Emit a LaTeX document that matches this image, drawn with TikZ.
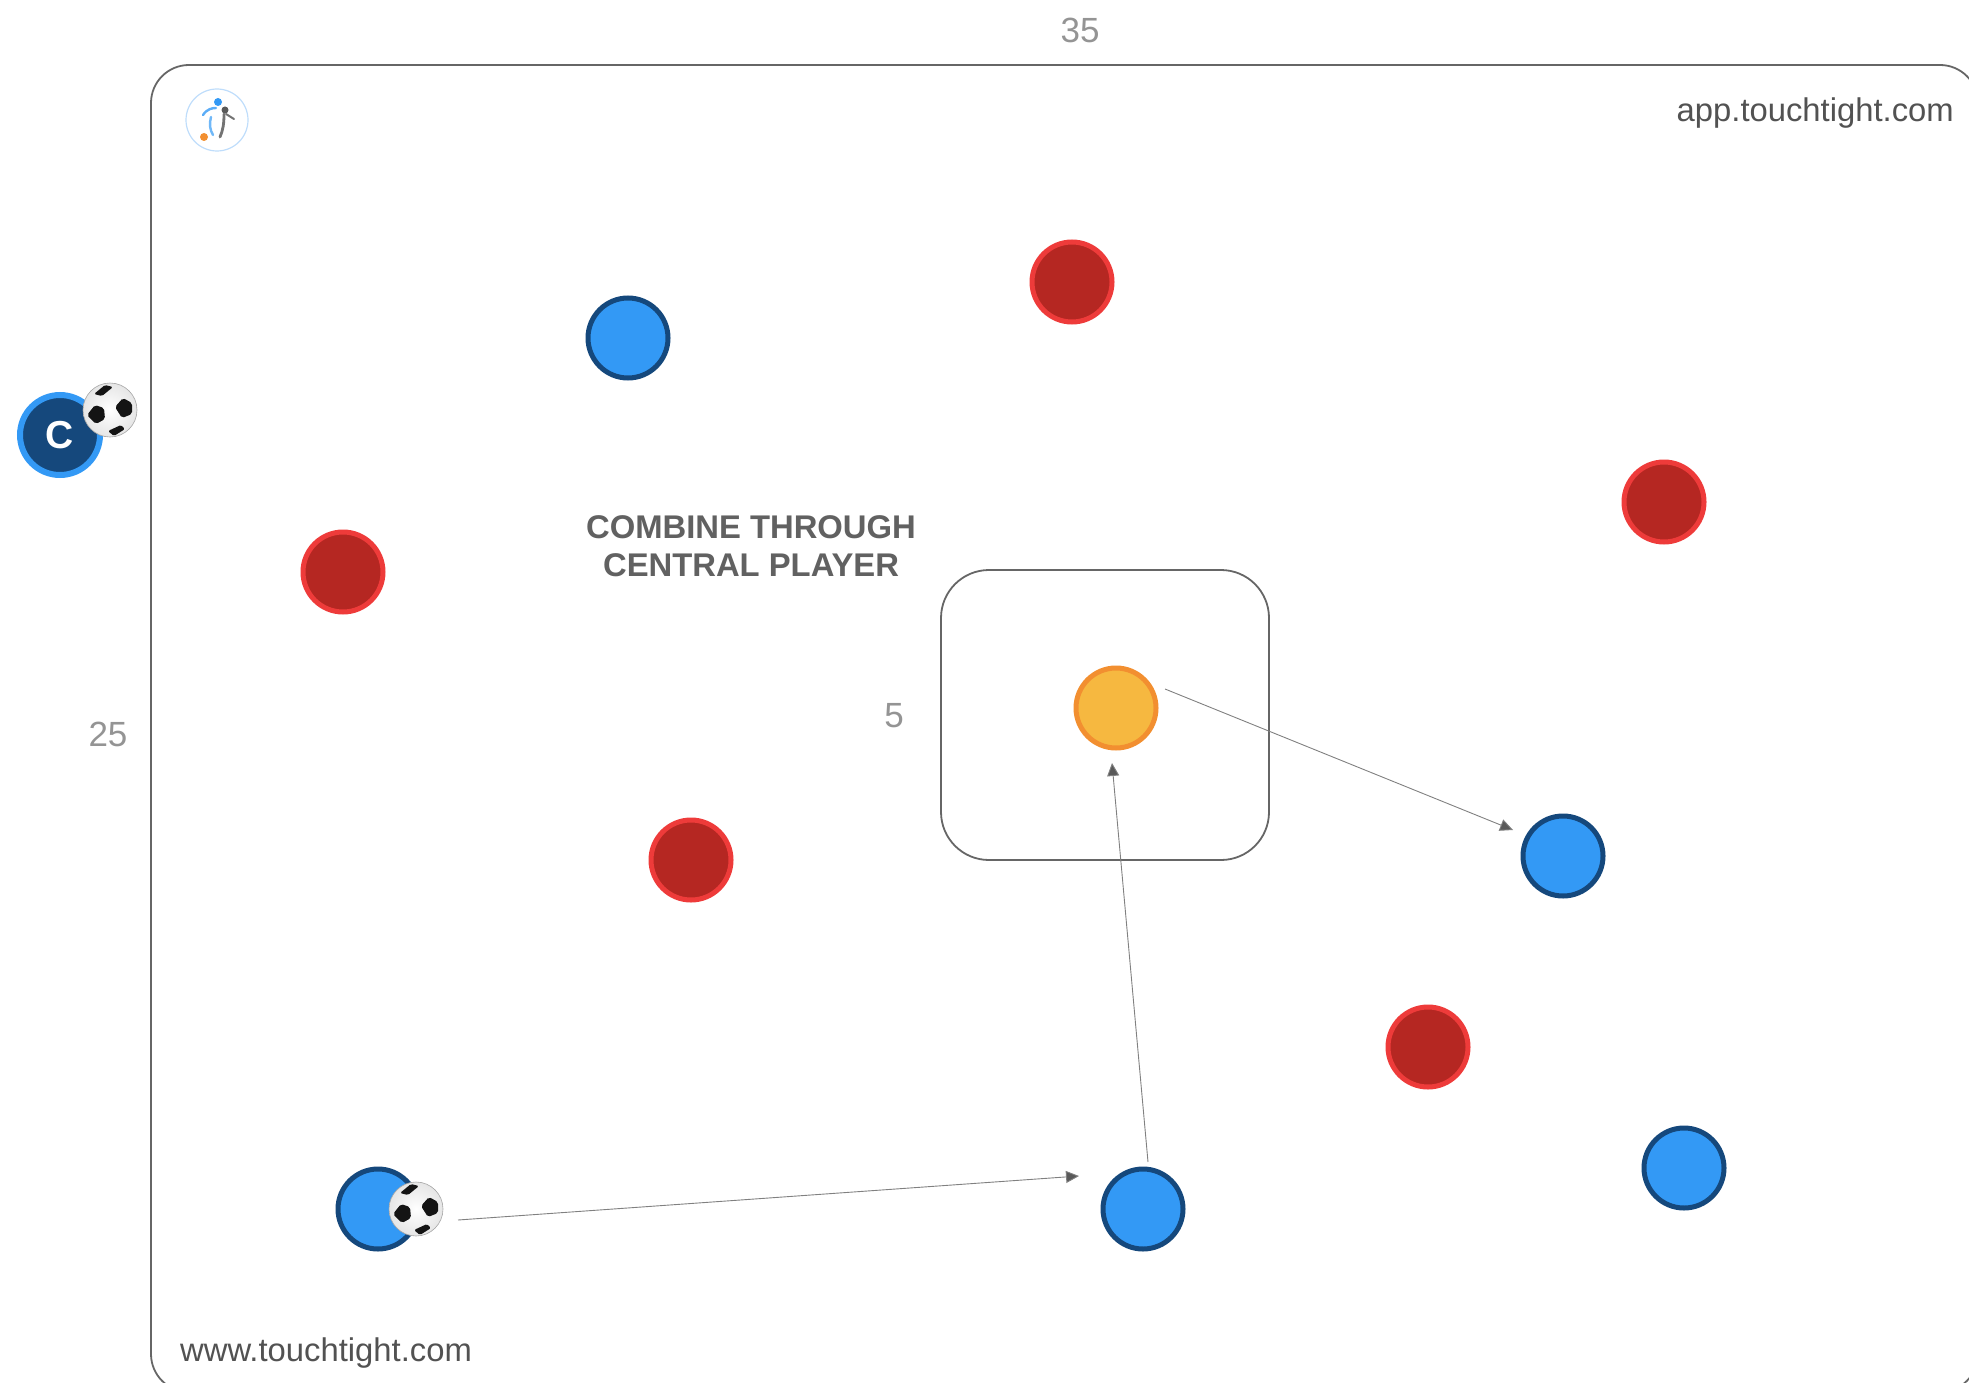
\documentclass[tikz,border=0pt]{standalone}
\usepackage{fontspec}
\setmainfont{Liberation Sans}
\usetikzlibrary{arrows.meta}
\definecolor{redfill}{HTML}{B52722}
\definecolor{redline}{HTML}{EE3B3A}
\definecolor{bluefill}{HTML}{3399F5}
\definecolor{blueline}{HTML}{15487C}
\definecolor{orangefill}{HTML}{F6B840}
\definecolor{orangeline}{HTML}{F28F30}
\definecolor{frameline}{HTML}{666666}
\definecolor{logoblue}{HTML}{BFDDFB}
\tikzset{
  x=1pt,y=-1pt,
  player/.style={circle,inner sep=0pt,outer sep=0pt,minimum size=80pt,line width=5pt},
  redplayer/.style={player,fill=redfill,draw=redline},
  blueplayer/.style={player,fill=bluefill,draw=blueline},
  orangeplayer/.style={player,fill=orangefill,draw=orangeline},
  coachplayer/.style={player,fill=blueline,draw=bluefill,line width=6pt,text=white,font=\fontsize{39}{39}\selectfont\bfseries},
  ballbody/.style={circle,inner sep=0pt,outer sep=0pt,minimum size=54pt,inner color=white,outer color=black!10,draw=black!35,line width=.6pt},
  framebox/.style={draw=frameline,line width=1.8pt,fill=none},
  pass/.style={draw=black!50,line width=.9pt,-{Triangle[length=13pt,width=12pt,fill=black!65]}},
  dimlabel/.style={text=black!42,inner sep=0pt,font=\fontsize{35}{35}\selectfont},
  siteurl/.style={text=black!68,inner sep=0pt,font=\fontsize{32.8}{32.8}\selectfont},
  drilltitle/.style={text=black!62,inner sep=0pt,align=center,font=\fontsize{32.8}{38.5}\selectfont\bfseries},
}
\newcommand{\ballpatches}[2]{%
  \begin{scope}[shift={(#1,#2)}]
    \fill[black!92,rounded corners=2pt] (-23,5) -- (-15,-5) -- (-6,-2) -- (-5,9) -- (-14,14) -- cycle;
    \fill[black!92,rounded corners=2pt] (5,-3) -- (13,-12) -- (22,-7) -- (22,4) -- (12,8) -- cycle;
    \fill[black!92,rounded corners=1.5pt] (-16,-16) -- (-5,-25) -- (3,-23) -- (-8,-14) -- cycle;
    \fill[black!92,rounded corners=1.5pt] (-2,21) -- (11,15) -- (15,19) -- (4,26) -- cycle;
  \end{scope}}
\begin{document}
\begin{tikzpicture}
\useasboundingbox (0,0) rectangle (1969,1383);
\begin{scope}
\clip (0,0) rectangle (1969,1383);
\draw[framebox,rounded corners=38pt] (151,65) rectangle (1978,1392);
\end{scope}
\draw[framebox,rounded corners=48pt] (941,570) rectangle (1269,860);

% logo
\node[circle,draw=logoblue,line width=1.2pt,minimum size=62pt,inner sep=0pt] (logo) at (217,120) {};
\fill[bluefill] (218,102) circle (4pt);
\fill[black!65] (225,110) circle (3.5pt);
\fill[orangeline] (204,137) circle (4pt);
\draw[bluefill!80,line width=2.4pt,line cap=round] (203,115) .. controls (207,109) and (212,108) .. (216,108);
\draw[bluefill!70,line width=2.4pt,line cap=round] (211,117) .. controls (209,124) and (210,130) .. (213,135);
\draw[black!55,line width=2.8pt,line cap=round] (224,114) .. controls (224,124) and (223,130) .. (220,137);
\draw[black!55,line width=2pt,line cap=round] (226,114) -- (234,119);

% players
\node[redplayer] (r1) at (1072,282) {};
\node[redplayer] (r2) at (1664,502) {};
\node[redplayer] (r3) at (343,572) {};
\node[redplayer] (r4) at (691,860) {};
\node[redplayer] (r5) at (1428,1047) {};
\node[blueplayer] (b1) at (628,338) {};
\node[blueplayer] (b2) at (1563,856) {};
\node[blueplayer] (b3) at (1143,1209) {};
\node[blueplayer] (b4) at (1684,1168) {};
\node[blueplayer] (b5) at (378,1209) {};
\node[orangeplayer] (central) at (1116,708) {};
\node[coachplayer] (coach) at (60,435) {C};

% balls
\node[ballbody] (ballA) at (110,410) {};
\ballpatches{110}{410}
\node[ballbody] (ballB) at (416,1209) {};
\ballpatches{416}{1209}

% passes
\coordinate (p1s) at (458,1220);
\coordinate (p1e) at (1079,1176);
\coordinate (p2s) at (1148,1162);
\coordinate (p2e) at (1112,763);
\coordinate (p3s) at (1165,689);
\coordinate (p3e) at (1513,830);
\draw[pass] (p1s) -- (p1e);
\draw[pass] (p2s) -- (p2e);
\draw[pass] (p3s) -- (p3e);

% labels
\node[dimlabel] (w) at (1080,30) {35};
\node[dimlabel] (h) at (108,734) {25};
\node[dimlabel] (s) at (894,716) {5};
\node[siteurl,anchor=base east] (app) at (1954,122) {app.touchtight.com};
\node[siteurl,anchor=base west] (www) at (180,1361) {www.touchtight.com};
\node[drilltitle] (title) at (751,546) {COMBINE THROUGH\\CENTRAL PLAYER};
\end{tikzpicture}
\end{document}
